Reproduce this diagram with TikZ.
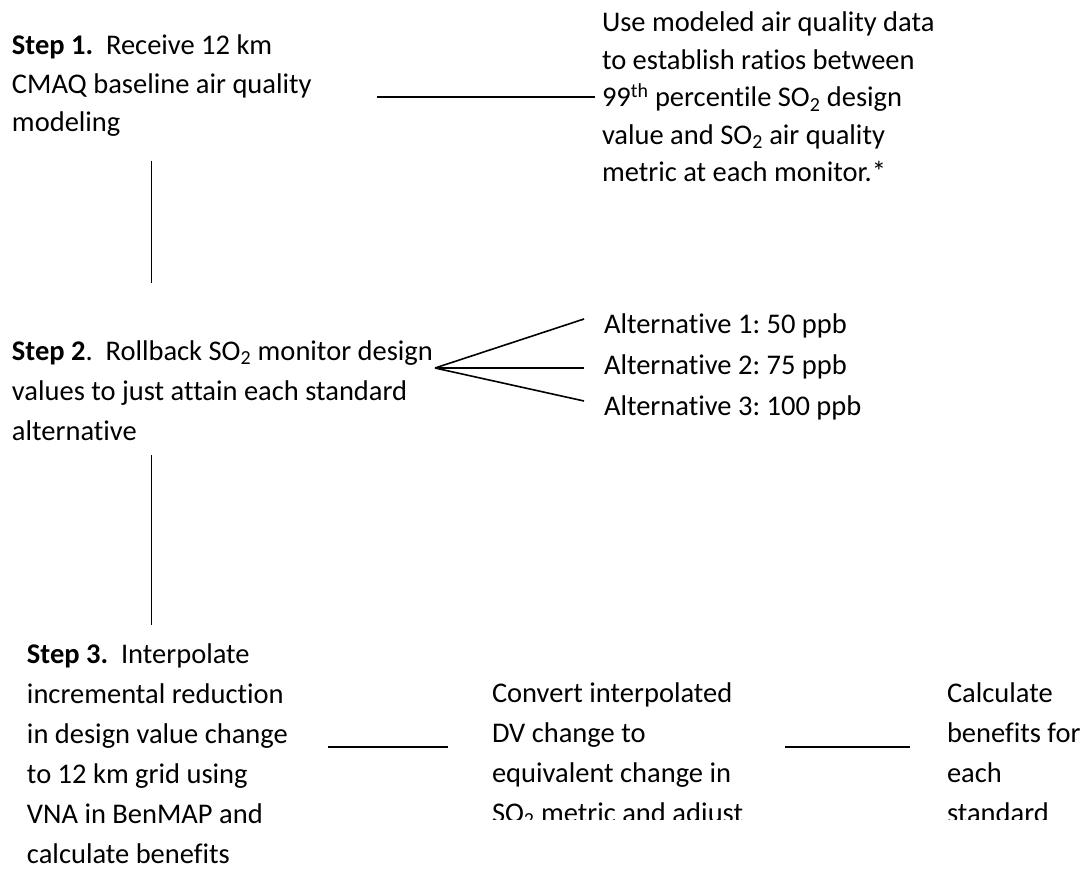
\documentclass[tikz,border=0pt]{standalone}
\usepackage{fontspec}
\setmainfont{Carlito}[Ligatures=NoCommon]
\frenchspacing
\tikzset{
  txt/.style={anchor=base west, inner sep=0pt, outer sep=0pt},
  conn/.style={line width=1.6pt, black},
}
\newcommand{\blk}[2]{\parbox[t]{520pt}{\fontsize{28.5}{#1}\selectfont\raggedright #2}}
\newcommand{\onel}[1]{\fontsize{28.5}{32}\selectfont #1}
\begin{document}
\begin{tikzpicture}[x=1pt,y=-1pt]
\useasboundingbox (0,0) rectangle (1089,869);
% Step 1
\node[txt] (s1) at (12,55) {\blk{38.5pt}{\textbf{Step 1.}\ \ Receive 12 km\\CMAQ baseline air quality\\modeling}};
\node[txt] (r1) at (602,32) {\blk{37.5pt}{Use modeled air quality data\\to establish ratios between\\99\textsuperscript{th} percentile SO\textsubscript{2} design\\value and SO\textsubscript{2} air quality\\metric at each monitor.*}};
\coordinate (l1a) at (377,97);
\coordinate (l1b) at (595,97);
\draw[conn] (l1a) -- (l1b);
\coordinate (v1a) at (151.5,161);
\coordinate (v1b) at (151.5,283);
\draw[conn] (v1a) -- (v1b);
% Step 2
\node[txt] (s2) at (12,360) {\blk{40pt}{\textbf{Step 2}.\ \ Rollback SO\textsubscript{2} monitor design\\values to just attain each standard\\alternative}};
\node[txt] (a1) at (604,333) {\onel{Alternative 1: 50 ppb}};
\node[txt] (a2) at (604,374) {\onel{Alternative 2: 75 ppb}};
\node[txt] (a3) at (604,415) {\onel{Alternative 3: 100 ppb}};
\coordinate (fo) at (435,368);
\coordinate (f1) at (584,319);
\coordinate (f2) at (584,368);
\coordinate (f3) at (584,401);
\draw[conn] (fo) -- (f1);
\draw[conn] (fo) -- (f2);
\draw[conn] (fo) -- (f3);
\coordinate (v2a) at (151.5,455);
\coordinate (v2b) at (151.5,625);
\draw[conn] (v2a) -- (v2b);
% Step 3
\node[txt] (s3) at (27,663) {\blk{40pt}{\textbf{Step 3.}\ \ Interpolate\\incremental reduction\\in design value change\\to 12 km grid using\\VNA in BenMAP and\\calculate benefits}};
\begin{scope}
\clip (460,0) rectangle (1089,819);
\node[txt] (m3) at (492,702) {\blk{40pt}{Convert interpolated\\DV change to\\equivalent change in\\SO\textsubscript{2} metric and adjust}};
\node[txt] (c3) at (947,702) {\blk{40pt}{Calculate\\benefits for\\each\\standard}};
\end{scope}
\coordinate (l3a) at (328,747);
\coordinate (l3b) at (448,747);
\draw[conn] (l3a) -- (l3b);
\coordinate (l4a) at (785,747);
\coordinate (l4b) at (910,747);
\draw[conn] (l4a) -- (l4b);
\end{tikzpicture}
\end{document}
